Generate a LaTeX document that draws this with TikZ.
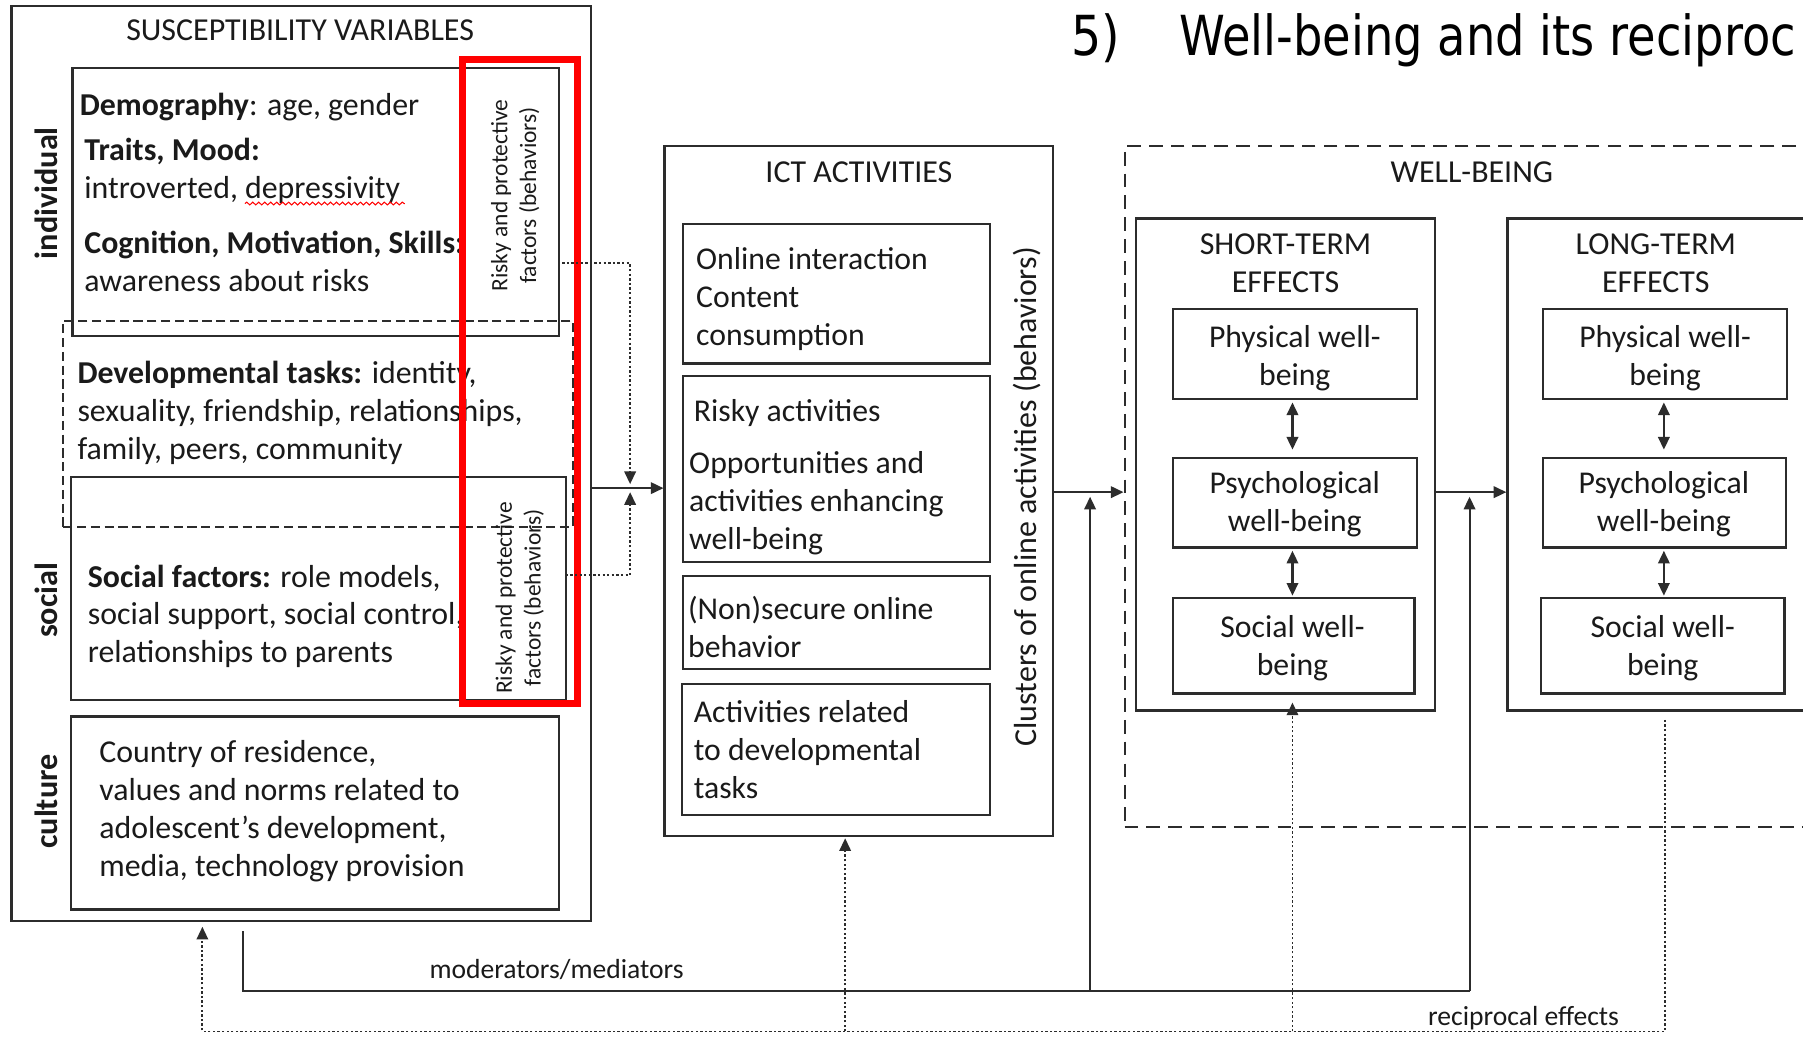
\documentclass[tikz,border=0pt]{standalone}
\usepackage{graphicx}
\usepackage{fontspec}
\setmainfont{Carlito}
\newfontfamily\titlefont{DejaVu Sans}
\usetikzlibrary{arrows.meta,fit,decorations.pathmorphing}
\definecolor{ln}{HTML}{2C2C2C}
\definecolor{tx}{HTML}{1A1A1A}
\begin{document}
\begin{tikzpicture}[x=0.5pt,y=-0.5pt,
  bx/.style={draw=ln, line width=1pt, inner sep=0pt},
  body/.style={font=\fontsize{13.85}{16.5}\selectfont, text=tx, inner sep=0pt, align=left, anchor=north west},
  ictt/.style={body, font=\fontsize{13.8}{16.5}\selectfont},
  bodyc/.style={font=\fontsize{13.8}{16.5}\selectfont, text=tx, inner sep=0pt, align=center, anchor=north},
  head/.style={font=\fontsize{13.9}{16.5}\selectfont, text=tx, inner sep=0pt, align=center, anchor=north},
  vlab/.style={font=\fontsize{14}{16}\selectfont\bfseries, text=tx, rotate=90, inner sep=0pt},
  smallrot/.style={font=\fontsize{10.2}{12.5}\selectfont, text=tx, rotate=90, align=center, inner sep=0pt},
  lbl/.style={font=\fontsize{12}{14}\selectfont, text=tx, inner sep=0pt},
  tip/.style={-{Triangle[length=5.5pt,width=5pt]}},
  arr/.style={draw=ln, line width=0.9pt, tip},
  plain/.style={draw=ln, line width=0.9pt},
  dotline/.style={draw=ln, line width=0.8pt, dash pattern=on 1pt off 1pt},
  dotarr/.style={dotline, tip},
  dblarr/.style={draw=ln, line width=0.9pt, {Triangle[length=5.5pt,width=5pt]}-{Triangle[length=5.5pt,width=5pt]}}
]
\useasboundingbox (0,0) rectangle (1568,901);
\clip (0,0) rectangle (1568,901);
\fill[white] (0,0) rectangle (1568,901);

% ---------- title ----------
\node[anchor=base west, inner sep=0pt, font=\titlefont\fontsize{24}{28}\selectfont] (tnum) at (931,48) {\scalebox{0.86}[1]{5)}};
\node[anchor=base west, inner sep=0pt, font=\titlefont\fontsize{24}{28}\selectfont] (ttitle) at (1025,48) {\scalebox{0.84}[1]{Well-being and its reciproc}};

% ---------- susceptibility variables ----------
\node[bx, fit={(10,5) (514,801)}] (sus) {};
\node[head] (sustitle) at (261,12) {\strut SUSCEPTIBILITY VARIABLES};
\node[bx, fit={(63,59) (486,292)}] (indiv) {};
\node[bx, fit={(62,415) (492,609)}] (social) {};
\node[bx, fit={(62,623) (486,791)}] (culture) {};
\node[draw=ln, line width=0.8pt, dash pattern=on 4pt off 2pt, inner sep=0pt, fit={(55,279) (498,458)}] (devt) {};

\node[vlab] (lind) at (40,168) {individual};
\node[vlab] (lsoc) at (40,522) {social};
\node[vlab] (lcul) at (40,697) {culture};

\node[body] (tdemo) at (69,77) {\strut\textbf{Demography}: age, gender};
\node[body] (ttraits) at (73,116) {\strut\textbf{Traits, Mood:}\\introverted, depressivity};
\node[body] (tcog) at (73,197) {\strut\textbf{Cognition, Motivation, Skills:}\\awareness about risks};
\node[body] (tdev) at (67,310) {\strut\textbf{Developmental tasks:} identity,\\sexuality, friendship, relationships,\\family, peers, community};
\node[body] (tsoc) at (76,487) {\strut\textbf{Social factors:} role models,\\social support, social control,\\relationships to parents};
\node[body] (tcul) at (86,640) {\strut Country of residence,\\values and norms related to\\adolescent’s development,\\media, technology provision};

\coordinate (sq1) at (213,177);
\coordinate (sq2) at (352,177);
\draw[red, line width=0.45pt, decorate, decoration={snake, amplitude=0.6pt, segment length=2.6pt}] (sq1) -- (sq2);

\node[smallrot] (rp1) at (448,170) {Risky and protective\\factors (behaviors)};
\node[smallrot] (rp2) at (452,520) {Risky and protective\\factors (behaviors)};

\node[draw=red, line width=3pt, inner sep=0pt, fit={(402,52) (502,612)}] (redbox) {};

% ---------- ICT activities ----------
\node[bx, fit={(578,127) (916,727)}] (ict) {};
\node[head] (icttitle) at (747,135) {\strut ICT ACTIVITIES};
\node[bx, fit={(594,195) (861,316)}] (a1) {};
\node[bx, fit={(594,327) (861,489)}] (a2) {};
\node[bx, fit={(594,501) (861,582)}] (a3) {};
\node[bx, fit={(593,595) (861,709)}] (a4) {};
\node[ictt] (ta1) at (605,211) {\strut Online interaction\\Content\\consumption};
\node[ictt] (ta2a) at (603,343) {\strut Risky activities};
\node[ictt] (ta2b) at (599,388) {\strut Opportunities and\\activities enhancing\\well-being};
\node[ictt] (ta3) at (598,515) {\strut (Non)secure online\\behavior};
\node[ictt] (ta4) at (603,605) {\strut Activities related\\to developmental\\tasks};
\node[font=\fontsize{13.9}{16}\selectfont, text=tx, rotate=90, inner sep=0pt] (clusters) at (893,432) {Clusters of online activities (behaviors)};

% ---------- well-being ----------
\node[draw=ln, line width=0.9pt, dash pattern=on 6pt off 3.5pt, inner sep=0pt, fit={(978,127) (1620,719)}] (wb) {};
\node[head] (wbtitle) at (1280,135) {\strut WELL-BEING};
\node[bx, fit={(988,190) (1248,618)}] (st) {};
\node[bx, fit={(1311,190) (1620,618)}] (lt) {};
\node[head] (sttitle) at (1118,198) {\strut SHORT-TERM\\EFFECTS};
\node[head] (lttitle) at (1440,198) {\strut LONG-TERM\\EFFECTS};

\node[bx, fit={(1020,269) (1232,347)}] (stphy) {};
\node[bx, fit={(1020,398) (1232,476)}] (stpsy) {};
\node[bx, fit={(1020,520) (1230,603)}] (stsoc) {};
\node[bx, fit={(1342,269) (1554,347)}] (ltphy) {};
\node[bx, fit={(1342,398) (1553,476)}] (ltpsy) {};
\node[bx, fit={(1340,520) (1552,603)}] (ltsoc) {};

\node[bodyc] (tstphy) at (1126,279) {\strut Physical well-\\being};
\node[bodyc] (tstpsy) at (1126,406) {\strut Psychological\\well-being};
\node[bodyc] (tstsoc) at (1124,531) {\strut Social well-\\being};
\node[bodyc] (tltphy) at (1448,279) {\strut Physical well-\\being};
\node[bodyc] (tltpsy) at (1447,406) {\strut Psychological\\well-being};
\node[bodyc] (tltsoc) at (1446,531) {\strut Social well-\\being};

\draw[dblarr, shorten <=1pt, shorten >=3pt] (stphy.south -| 1124,0) -- (stpsy.north -| 1124,0);
\draw[dblarr, shorten <=1pt, shorten >=0.5pt] (stpsy.south -| 1124,0) -- (stsoc.north -| 1124,0);
\draw[dblarr, shorten <=1pt, shorten >=3pt] (ltphy.south -| 1447,0) -- (ltpsy.north -| 1447,0);
\draw[dblarr, shorten <=1pt, shorten >=0.5pt] (ltpsy.south -| 1447,0) -- (ltsoc.north -| 1447,0);

% ---------- main flow ----------
\coordinate (yA) at (0,424.5);
\coordinate (yB) at (0,428);
\draw[arr] (sus.east |- yA) -- (ict.west |- yA);
\draw[arr] (ict.east |- yB) -- (wb.west |- yB);
\draw[arr] (st.east |- yB) -- (lt.west |- yB);

% dotted inputs from risky/protective factors
\coordinate (d1) at (489,229);
\coordinate (j1) at (548,421);
\coordinate (d2) at (492,500);
\coordinate (j2) at (548,428);
\draw[dotarr] (d1) -| (j1);
\draw[dotarr] (d2) -| (j2);

% moderators / mediators
\coordinate (m0) at (211,810);
\coordinate (m1) at (211,862);
\coordinate (mA) at (948,862);
\coordinate (mB) at (1278,862);
\coordinate (mAt) at (948,432);
\coordinate (mBt) at (1278,432);
\draw[plain] (m0) -- (m1) -- (mB);
\draw[arr] (mA) -- (mAt);
\draw[arr] (mB) -- (mBt);
\node[lbl] (modlbl) at (484,843) {moderators/mediators};

% reciprocal effects
\coordinate (r0) at (1448,626);
\coordinate (r1) at (1448,897);
\coordinate (r2) at (176,897);
\coordinate (r3) at (176,806);
\coordinate (rA) at (735,897);
\coordinate (rAt) at (735,729);
\coordinate (rB) at (1124,897);
\coordinate (rBt) at (1124,611);
\draw[dotarr] (r0) -- (r1) -- (r2) -- (r3);
\draw[dotarr] (rA) -- (rAt);
\draw[dotarr] (rB) -- (rBt);
\node[lbl] (reclbl) at (1325,885) {reciprocal effects};
\end{tikzpicture}
\end{document}
